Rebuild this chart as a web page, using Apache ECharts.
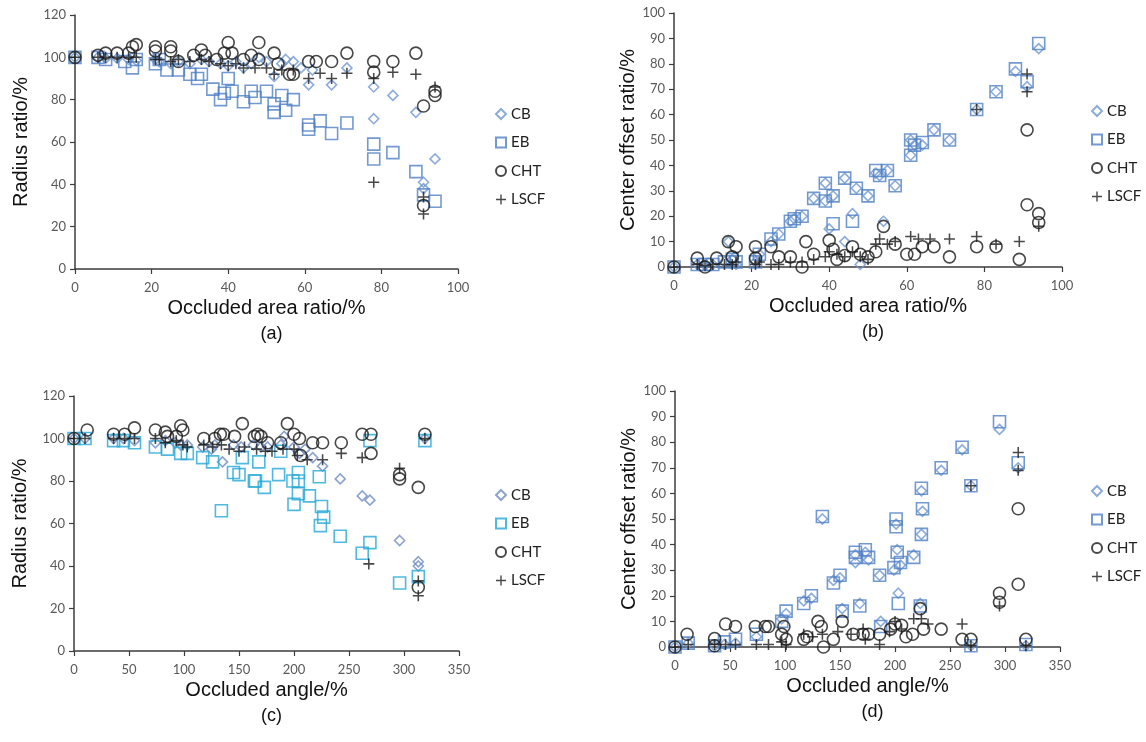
<!DOCTYPE html>
<html>
<head>
<meta charset="utf-8">
<script src="https://cdn.jsdelivr.net/npm/echarts@6/dist/echarts.min.js"></script>
<style>
html,body{margin:0;padding:0;background:#fff;}
#chart{width:1146px;height:742px;}
</style>
</head>
<body>
<div id="chart"></div>
<script>
// ---------- Data ----------
const seriesNames = ['CB', 'EB', 'CHT', 'LSCF'];
const panelLabels = ['(a)', '(b)', '(c)', '(d)'];
const xAxisNames = ['Occluded area ratio/%', 'Occluded area ratio/%', 'Occluded angle/%', 'Occluded angle/%'];
const yAxisNames = ['Radius ratio/%', 'Center offset ratio/%', 'Radius ratio/%', 'Center offset ratio/%'];
const xMax = [100, 100, 350, 350];
const xStep = [20, 20, 50, 50];
const yMax = [120, 100, 120, 100];
const yStep = [20, 10, 20, 10];

// (a) radius ratio vs occluded area ratio
const A_CB = [[0,100],[6,100],[8,99.5],[11,99.5],[14,99],[16,98.5],[21,99],[22,98],[25,97],[27,98],[30,97],[33,99],[35,98],[38,97],[40,96],[42,98],[44,95],[46,97],[48,100],[50,98],[52,91],[54,97],[55,99],[57,98],[59,95],[61,87],[62,94],[67,87],[71,95],[78,86],[78,71],[83,82],[89,74],[91,41],[91,38],[94,52]];
const A_EB = [[0,100],[6,100],[8,99],[13,98],[15,95],[16,99],[21,97],[22,99],[24,94],[27,94],[30,92],[32,90],[33,92],[36,85],[38,80],[39,83],[40,90],[41,84],[44,79],[46,84],[47,81],[50,84],[52,78],[52,74],[54,82],[55,75],[57,80],[61,68],[61,66],[64,70],[67,64],[71,69],[78,59],[78,52],[83,55],[89,46],[91,35],[94,32]];
const A_CHT = [[0,100],[6,101],[8,102],[11,102],[14,102],[15,105],[16,106],[21,105],[21,103],[25,105],[25,103],[27,98],[31,101],[33,103.5],[34,101],[37,99],[39,102],[40,107],[41,102],[44,99],[46,101],[48,107],[48,99],[52,102],[53,97],[56,92],[57,92],[61,98],[63,98],[67,98],[71,102],[78,98],[78,93],[83,98],[89,102],[91,77],[91,30],[94,84],[94,82]];
const A_LSCF = [[0,100],[6,100],[8,100],[11,100],[14,100],[16,100],[21,99],[22,99],[25,98],[27,99],[30,98],[33,99],[35,98],[38,97],[40,96],[42,97],[44,95],[47,95],[50,95],[52,92],[54,94],[57,94],[61,90],[64,92.5],[67,90],[71,92.5],[78,90],[78,41],[83,93],[89,92],[91,34],[91,26],[94,86]];

// (b) center offset ratio vs occluded area ratio
const B_CB = [[0,0],[6,1],[8,1],[10,1],[13,2],[14,10],[15,3],[16,1],[21,2],[22,5],[25,10],[27,13],[30,18],[31,19],[33,20],[36,27],[39,33],[39,26],[40,15],[41,28],[44,35],[44,10],[46,21],[47,31],[48,1],[50,28],[52,37],[53,36],[54,18],[55,38],[57,32],[61,44],[61,50],[62,48],[64,48],[67,54],[71,50],[78,62],[83,69],[88,77],[91,71],[94,86]];
const B_EB = [[0,0],[6,1],[8,1],[10,1],[13,2],[15,3],[16,2],[21,2],[22,5],[25,11],[27,13],[30,18],[31,19],[33,20],[36,27],[39,33],[39,26],[41,17],[41,28],[44,35],[46,18],[47,31],[50,28],[52,38],[53,36],[55,38],[57,32],[61,44],[61,50],[62,48],[64,49],[67,54],[71,50],[78,62],[83,69],[88,78],[91,73],[94,88]];
const B_CHT = [[0,0],[6,3.5],[8,0],[11,3.5],[14,10],[15,4],[16,8],[21,8],[21,3.5],[25,8],[27,4],[30,4],[33,0],[34,10],[36,5],[40,10.5],[41,7],[42,3],[44,4.5],[46,8],[48,5],[50,4],[52,6],[54,16],[57,9],[60,5],[62,5],[64,8],[67,8],[71,4],[78,8],[83,8],[89,3],[91,54],[91,24.5],[94,21],[94,17.5]];
const B_LSCF = [[0,0],[6,1],[8,0.5],[10,1],[13,1],[15,1],[16,2],[21,1],[22,2],[25,1],[27,1],[30,2],[33,2],[36,3],[39,4],[40,6],[42,5],[44,4],[46,6],[48,4],[50,3],[52,9],[53,11],[55,9],[57,10],[61,12],[63,11],[66,11],[71,11],[78,12],[78,62],[83,9],[89,10],[91,76],[91,69],[94,16]];

// (c) radius ratio vs occluded angle
const C_CB = [[0,100],[10,100],[36,100],[45,100],[55,99],[74,98],[83,99],[92,98],[97,97],[103,97],[117,96],[125,95],[128,97],[135,89],[145,97],[152,96],[163,97],[170,96],[176,96],[188,97],[191,101],[200,96],[205,93],[210,95],[217,91],[226,87],[242,81],[262,73],[269,71],[296,52],[313,42],[313,40],[319,100]];
const C_EB = [[0,100],[10,100],[36,99],[45,99],[55,98],[74,96],[85,95],[97,93],[103,93],[117,91],[126,89],[134,66],[145,84],[150,83],[153,91],[164,80],[168,89],[173,77],[165,80],[186,83],[188,94],[199,80],[200,69],[204,84],[204,80],[204,74],[214,73],[223,82],[225,68],[227,63],[224,59],[242,54],[262,46],[269,51],[269,99],[296,32],[313,35],[319,99]];
const C_CHT = [[0,100],[12,104],[36,102],[46,102],[55,105],[74,104],[83,103],[85,101],[93,101],[97,106],[99,104],[118,100],[128,100],[133,102],[136,102],[146,101],[153,107],[164,101],[167,102],[170,101],[176,98],[188,98],[194,107],[200,102],[205,100],[206,92],[217,98],[226,98],[243,98],[262,102],[270,102],[270,93],[296,83],[296,81],[313,77],[313,30],[319,102]];
const C_LSCF = [[0,100],[10,100],[36,100],[46,100],[55,100],[74,100],[83,98],[93,99],[99,97],[103,96],[118,97],[126,96],[134,97],[141,95],[150,94],[155,96],[166,95],[174,94],[180,94],[190,95],[200,95],[203,92],[212,90],[226,90],[243,93],[262,91],[268,41],[296,86],[313,33],[313,26],[319,100]];

// (d) center offset ratio vs occluded angle
const D_CB = [[0,0],[12,1.5],[36,0.5],[45,1],[55,1.5],[74,4],[97,11],[101,13],[117,18],[124,19],[134,50],[144,26],[150,27],[152,15],[164,36],[164,33],[168,17],[173,37],[176,34],[186,28],[187,10],[199,30],[201,48],[202,38],[203,21],[205,32],[217,36],[223,17],[224,44],[225,53],[224,61],[242,69],[261,77],[269,63],[295,85],[312,70],[269,0.5],[319,0.5]];
const D_EB = [[0,0],[12,1.5],[36,0.5],[45,2],[55,3],[74,5],[97,10],[101,14],[117,17],[124,20],[134,51],[144,25],[150,28],[152,14],[164,37],[164,35],[168,16],[173,38],[176,35],[186,28],[187,8],[199,31],[201,50],[201,47],[202,37],[203,17],[205,33],[217,35],[223,16],[224,44],[225,54],[224,62],[242,70],[261,78],[269,63],[295,88],[312,72],[269,0.5],[319,1]];
const D_CHT = [[0,0],[11,5],[36,3.3],[36,0.5],[46,9],[55,8],[73,8],[82,8],[85,8],[97,5],[99,8],[101,3],[117,3],[120,4],[130,10],[133,8],[135,0],[144,3],[152,10],[162,5],[171,5],[176,5],[186,5],[196,7],[200,9],[206,8.5],[210,4],[216,5],[223,15],[226,7],[242,7],[261,3],[269,3],[295,21],[295,17.5],[312,54],[312,24.5],[319,3]];
const D_LSCF = [[0,0],[12,1],[36,1],[46,1],[55,1],[74,1],[85,1],[97,2],[101,1],[117,5],[125,4],[134,5],[148,6],[160,5],[171,7],[173,3],[186,1],[195,6],[200,10],[206,7],[217,11],[224,11],[230,9],[261,9],[269,0.5],[269,63],[295,16],[312,76],[312,69],[319,0.5]];

const panelData = [
  [A_CB, A_EB, A_CHT, A_LSCF],
  [B_CB, B_EB, B_CHT, B_LSCF],
  [C_CB, C_EB, C_CHT, C_LSCF],
  [D_CB, D_EB, D_CHT, D_LSCF]
];

// ---------- Layout & style ----------
const grids = [
  {left: 75, top: 15, width: 383, height: 254},
  {left: 674, top: 13, width: 388, height: 254},
  {left: 74, top: 396, width: 385, height: 255},
  {left: 675, top: 391, width: 385, height: 256}
];
const legendPos = [
  {left: 490, top: 100},
  {left: 1086, top: 97},
  {left: 490, top: 481},
  {left: 1086, top: 477}
];
const yNameGap = [44, 29, 44, 29];
const panelColors = [
  {CB: '#6f97d0', EB: '#4f7fc4'},
  {CB: '#6f97d0', EB: '#4f7fc4'},
  {CB: '#6f8cc0', EB: '#25a7d6'},
  {CB: '#6f97d0', EB: '#4f7fc4'}
];
const plusPath = 'path://M4.3,0h1.4v10h-1.4z M0,4.3h10v1.4h-10z';

const axisColor = '#3c3c3c';
const tickFont = {color: '#595959', fontSize: 13, fontFamily: 'Lato, "Open Sans", sans-serif'};
const nameFont = {color: '#111', fontSize: 20, fontFamily: '"Liberation Sans", Arial, sans-serif'};

const option = {
  animation: false,
  backgroundColor: '#fff',
  grid: grids,
  title: grids.map((g, i) => ({
    text: panelLabels[i],
    left: g.left + g.width / 2,
    textAlign: 'center',
    top: g.top + g.height + 51,
    textStyle: {fontSize: 18, fontWeight: 'normal', color: '#111', fontFamily: '"Liberation Sans", Arial, sans-serif'}
  })),
  xAxis: grids.map((g, i) => ({
    gridIndex: i, type: 'value', min: 0, max: xMax[i], interval: xStep[i],
    name: xAxisNames[i], nameLocation: 'middle', nameGap: 29, nameTextStyle: nameFont,
    axisLine: {show: true, onZero: false, lineStyle: {color: axisColor, width: 1.5}},
    axisTick: {show: true, length: 5, lineStyle: {color: axisColor, width: 1.2}},
    axisLabel: Object.assign({margin: 12}, tickFont),
    splitLine: {show: false}
  })),
  yAxis: grids.map((g, i) => ({
    gridIndex: i, type: 'value', min: 0, max: yMax[i], interval: yStep[i],
    name: yAxisNames[i], nameLocation: 'middle', nameGap: yNameGap[i], nameTextStyle: nameFont,
    axisLine: {show: true, lineStyle: {color: axisColor, width: 1.5}},
    axisTick: {show: true, length: 5, lineStyle: {color: axisColor, width: 1.2}},
    axisLabel: Object.assign({margin: 9}, tickFont),
    splitLine: {show: false}
  })),
  legend: legendPos.map((p, i) => ({
    orient: 'vertical', left: p.left, top: p.top,
    data: seriesNames.map(n => n + '|' + i),
    formatter: name => name.split('|')[0],
    itemWidth: 10, itemHeight: 10, itemGap: 10.5,
    textStyle: {fontSize: 15, color: '#222', fontFamily: 'Lato, "Open Sans", sans-serif', lineHeight: 18},
    selectedMode: false
  })),
  series: []
};

panelData.forEach((sets, i) => {
  sets.forEach((data, k) => {
    const name = seriesNames[k];
    let s = {
      name: name + '|' + i, type: 'scatter', xAxisIndex: i, yAxisIndex: i,
      data: data, z: 2 + k
    };
    if (name === 'CB') {
      s.symbol = 'diamond'; s.symbolSize = 10;
      s.itemStyle = {color: 'rgba(255,255,255,0)', borderColor: panelColors[i].CB, borderWidth: 1.6};
    } else if (name === 'EB') {
      s.symbol = 'rect'; s.symbolSize = 12;
      s.itemStyle = {color: 'rgba(255,255,255,0)', borderColor: panelColors[i].EB, borderWidth: 1.6};
    } else if (name === 'CHT') {
      s.symbol = 'circle'; s.symbolSize = 12;
      s.itemStyle = {color: 'rgba(255,255,255,0)', borderColor: '#1a1a1a', borderWidth: 1.6};
    } else {
      s.symbol = plusPath; s.symbolSize = 11;
      s.itemStyle = {color: '#1a1a1a'};
    }
    option.series.push(s);
  });
});

const chart = echarts.init(document.getElementById('chart'), null, {renderer: 'canvas'});
chart.setOption(option);
</script>
</body>
</html>
